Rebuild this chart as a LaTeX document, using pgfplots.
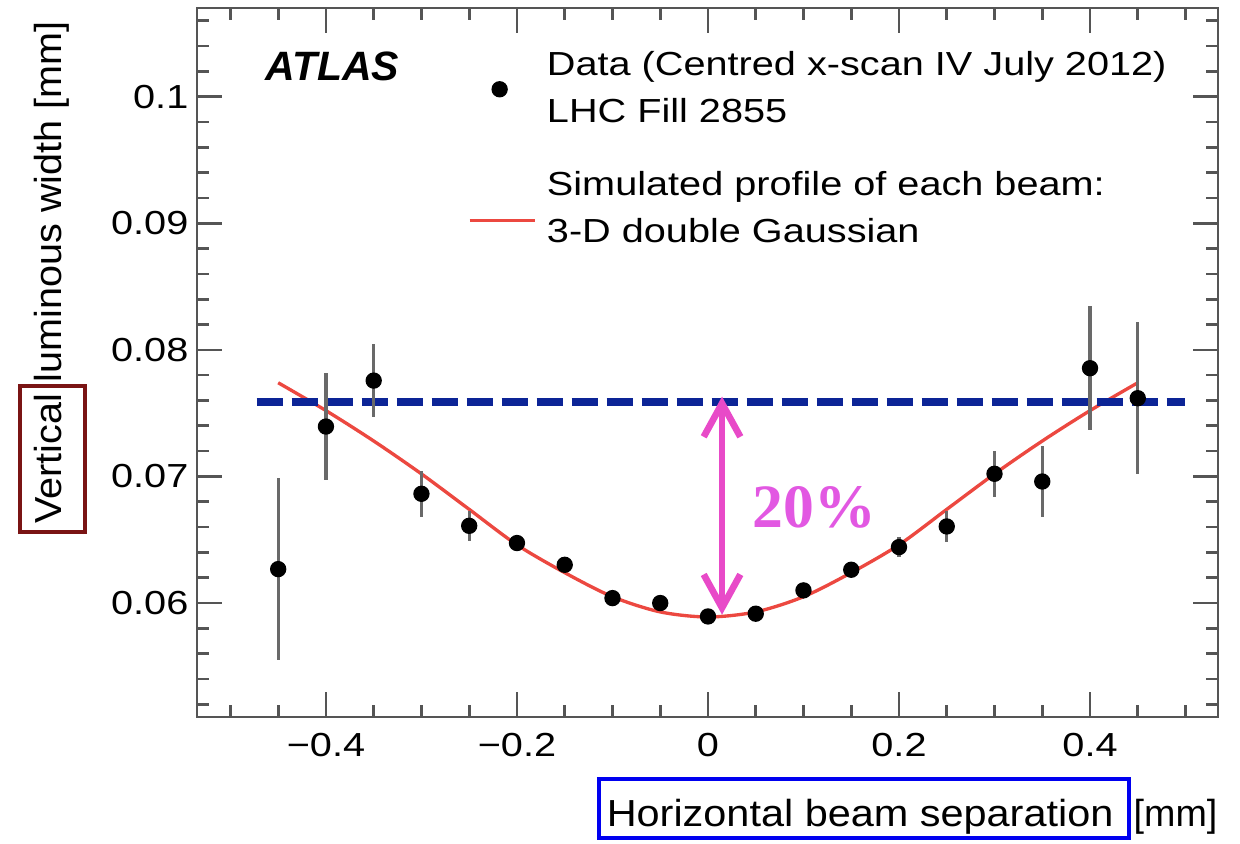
\documentclass[border=0pt]{standalone}
\usepackage{fontspec}
\setmainfont{Liberation Sans}
\newfontfamily\stretchsans[FakeStretch=1.19]{Liberation Sans}
\newfontfamily\labelsans[FakeStretch=1.10]{Liberation Sans}
\newfontfamily\ylabelsans[FakeStretch=1.05]{Liberation Sans}
\newfontfamily\serifbold{Liberation Serif}
\usepackage{pgfplots}
\pgfplotsset{compat=1.18}
\usetikzlibrary{arrows.meta}

\definecolor{framegray}{RGB}{85,85,85}
\definecolor{errgray}{RGB}{105,105,105}
\definecolor{fitred}{RGB}{236,72,64}
\definecolor{refblue}{RGB}{12,36,150}
\definecolor{arrowmag}{RGB}{232,74,200}
\definecolor{pctmag}{RGB}{226,88,226}
\definecolor{boxred}{RGB}{122,20,20}
\definecolor{boxblue}{RGB}{0,0,240}

\newcommand{\tickfont}{\stretchsans\fontsize{10pt}{12pt}\selectfont}
\newcommand{\legfont}{\stretchsans\fontsize{10pt}{14.1pt}\selectfont}
\newcommand{\labfont}{\labelsans\fontsize{11.3pt}{13pt}\selectfont}
\newcommand{\ylabfont}{\ylabelsans\fontsize{11.3pt}{13pt}\selectfont}

\pgfplotsset{
    dotlegend/.style={legend image code/.code={\draw[##1] plot coordinates {(9pt,0pt)};}},
    fitlegend/.style={legend image code/.code={\draw[##1] (0pt,-3.2pt) -- (19.5pt,-3.2pt);}},
}

\begin{document}
\begin{tikzpicture}
\begin{axis}[
    scale only axis,
    width=306.3pt, height=212.7pt,
    xmin=-0.535, xmax=0.534,
    ymin=0.051, ymax=0.107,
    scaled ticks=false,
    axis line style={framegray, line width=0.8pt},
    tick style={framegray, line width=0.8pt},
    major tick length=7.5pt, minor tick length=3.5pt,
    tick align=inside, tick pos=both,
    xtick={-0.4,-0.2,0,0.2,0.4},
    xticklabels={−0.4,−0.2,0,0.2,0.4},
    minor xtick={-0.5,-0.45,...,0.5},
    ytick={0.06,0.07,0.08,0.09,0.1},
    yticklabels={0.06,0.07,0.08,0.09,0.1},
    minor ytick={0.052,0.054,...,0.106},
    tick label style={font=\tickfont},
    xticklabel style={anchor=base, inner sep=0pt, yshift=-12pt},
    yticklabel style={anchor=east, inner sep=0pt, xshift=-2.4pt},
    legend style={at={(0.2654,0.9485)}, anchor=north west,
        draw=none, fill=none, inner sep=0pt, outer sep=0pt,
        row sep=9.3pt, column sep=1.2pt, font=\legfont,
        cells={anchor=west, align=left, inner sep=0pt}},
]

% fit: 3-D double Gaussian
\addplot[fitred, line width=1pt, smooth, forget plot] coordinates {
    (-0.45,0.0774) (-0.40,0.0752) (-0.35,0.0728) (-0.30,0.0702)
    (-0.25,0.0674) (-0.20,0.0646) (-0.15,0.0624) (-0.10,0.0605)
    (-0.05,0.0593) (0.00,0.0589) (0.05,0.0593) (0.10,0.0605)
    (0.15,0.0624) (0.20,0.0646) (0.25,0.0674) (0.30,0.0702)
    (0.35,0.0728) (0.40,0.0752) (0.45,0.0774)
};

% reference level
\addplot[refblue, line width=2.5pt, dash pattern=on 7.8pt off 2.7pt, forget plot]
    coordinates {(-0.4726,0.0759) (0.4995,0.0759)};

% data
\addplot[only marks, mark=*, mark size=2.25pt, black, forget plot,
    error bars/.cd, y dir=both, y explicit, error mark=none,
    error bar style={line width=1pt, errgray}]
    table[x=x, y=y, y error=ey] {
x      y        ey
-0.45  0.06268  0.0072
-0.40  0.07394  0.0042
-0.35  0.07757  0.0029
-0.30  0.06863  0.0018
-0.25  0.06610  0.0012
-0.20  0.06474  0.0004
-0.15  0.06302  0.0003
-0.10  0.06039  0.0002
-0.05  0.06000  0.0002
0.00   0.05894  0.0002
0.05   0.05916  0.0002
0.10   0.06100  0.0002
0.15   0.06263  0.0003
0.20   0.06442  0.0008
0.25   0.06605  0.0012
0.30   0.07021  0.0018
0.35   0.06960  0.0028
0.40   0.07855  0.0049
0.45   0.07618  0.0060
};

\addlegendimage{only marks, mark=*, mark size=2.25pt, black, dotlegend}
\addlegendentry{Data (Centred x-scan IV July 2012)\\LHC Fill 2855}
\addlegendimage{fitred, line width=1pt, fitlegend}
\addlegendentry{Simulated profile of each beam:\\3-D double Gaussian}

\node[anchor=base west, inner sep=0pt, font=\fontsize{12.3pt}{14pt}\selectfont\bfseries\itshape]
    at (axis cs:-0.4639,0.10131) {ATLAS};

\draw[arrowmag, line width=2pt,
    {Straight Barb[length=10pt,width=11pt]}-{Straight Barb[length=10pt,width=11pt]}]
    (axis cs:0.0147,0.07631) -- (axis cs:0.0147,0.05908);
\node[text=pctmag, font=\serifbold\bfseries\fontsize{18.5pt}{20pt}\selectfont]
    at (axis cs:0.111,0.06756) {20\%};
\end{axis}

\node[rotate=90, anchor=base east, inner sep=0pt, font=\ylabfont]
    at ([xshift=-40.6pt,yshift=-3.9pt]current axis.north west)
    {\setlength{\fboxrule}{1.2pt}\setlength{\fboxsep}{1.9pt}%
     \fcolorbox{boxred}{white}{\rule[-4.6pt]{0pt}{14.5pt}Vertical}\kern0.5pt luminous width [mm]};
\node[anchor=base east, inner sep=0pt, font=\labfont]
    at ([yshift=-33pt]current axis.south east)
    {\setlength{\fboxrule}{1.3pt}\setlength{\fboxsep}{0pt}%
     \fcolorbox{boxblue}{white}{\rule[-2.6pt]{0pt}{16.3pt}\hspace{1.7pt}Horizontal beam separation\ \hspace{0.5pt}}\kern0.8pt{\fontspec{Liberation Sans}\fontsize{11.3pt}{13pt}\selectfont[mm]}};

\pgfresetboundingbox
\path ([shift={(-59.1pt,-38.1pt)}]current axis.south west)
    rectangle ([shift={(6.6pt,2.4pt)}]current axis.north east);
\end{tikzpicture}
\end{document}
